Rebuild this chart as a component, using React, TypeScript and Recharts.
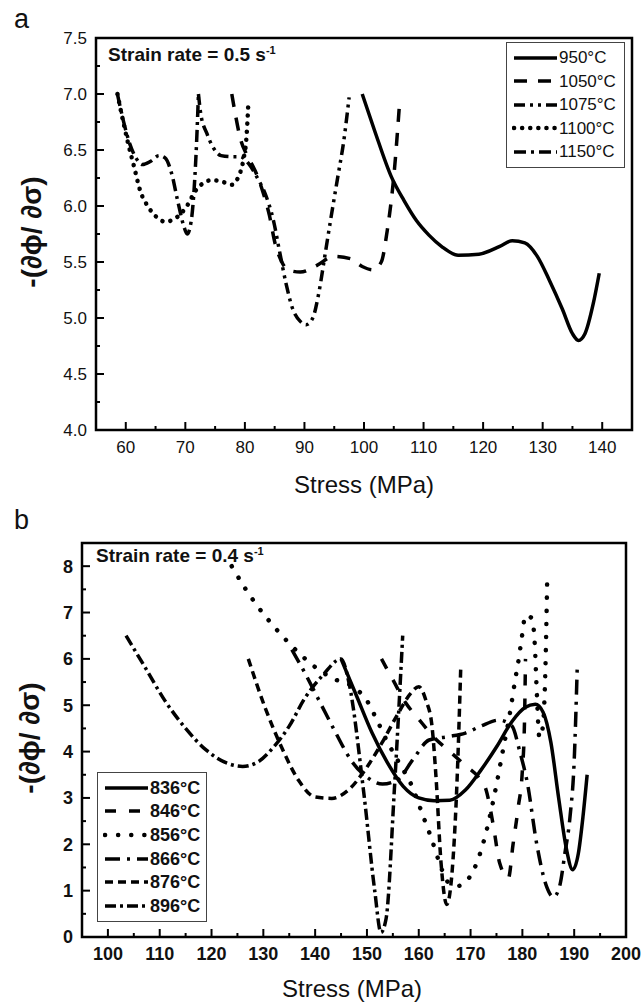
import React from "react";
import { LineChart, Line, XAxis, YAxis, ReferenceArea, Legend } from "recharts";

const FONT = '"Liberation Sans", Arial, Helvetica, sans-serif';

// ---- panel a : strain rate 0.5 s-1  (stress MPa, -(dphi/dsigma))
const t950 = [[99.7, 7.0], [101.8, 6.67], [104.6, 6.26], [106.7, 6.05], [108.8, 5.87], [110.9, 5.74], [113, 5.64], [115.8, 5.56], [119.3, 5.57], [122.8, 5.64], [124.9, 5.69], [127, 5.67], [129.1, 5.55], [131.1, 5.34], [133.3, 5.08], [135, 4.86], [136, 4.8], [137.1, 4.86], [138.5, 5.13], [139.5, 5.4]];
const t1050 = [[77.8, 7.0], [78.5, 6.79], [79.2, 6.61], [80.2, 6.47], [80.9, 6.4], [82, 6.28], [83, 6.13], [84.1, 5.92], [85.1, 5.66], [86.2, 5.5], [87.2, 5.43], [89.3, 5.41], [92.1, 5.47], [94.9, 5.55], [97.7, 5.53], [99.7, 5.46], [101.5, 5.43], [102.9, 5.5], [103.9, 5.78], [105, 6.26], [106, 6.94]];
const t1075 = [[72.2, 7.0], [72.6, 6.82], [73.6, 6.65], [74.6, 6.53], [76, 6.45], [77.8, 6.44], [79.2, 6.44], [80.6, 6.38], [82, 6.26], [83.4, 6.11], [84.8, 5.87], [85.8, 5.6], [86.9, 5.31], [87.9, 5.1], [89.3, 4.97], [90.3, 4.94], [91.4, 5.0], [92.4, 5.22], [93.5, 5.58], [94.5, 5.91], [95.6, 6.26], [96.6, 6.58], [97.5, 6.97]];
const t1100 = [[58.6, 7.0], [59.3, 6.82], [60.3, 6.58], [61.4, 6.35], [62.4, 6.14], [63.8, 5.99], [65.2, 5.9], [66.6, 5.86], [68, 5.88], [69.4, 5.94], [70.5, 6.02], [71.5, 6.12], [72.9, 6.2], [74.3, 6.23], [76, 6.22], [77.8, 6.19], [78.9, 6.26], [79.7, 6.4], [80.3, 6.64], [80.6, 6.94]];
const t1150 = [[58.6, 7.0], [59.6, 6.76], [60.7, 6.55], [61.7, 6.43], [62.8, 6.37], [64.2, 6.4], [65.6, 6.45], [66.6, 6.43], [67.7, 6.29], [68.7, 6.05], [69.8, 5.81], [70.3, 5.75], [71, 5.87], [71.5, 6.17], [71.9, 6.58], [72.2, 7.0]];

const topNames = ["950°C", "1050°C", "1075°C", "1100°C", "1150°C"];
const topData = [t950, t1050, t1075, t1100, t1150];
const topXTicks = [55, 60, 65, 70, 75, 80, 85, 90, 95, 100, 105, 110, 115, 120, 125, 130, 135, 140, 145];
const topXLabels = [60, 70, 80, 90, 100, 110, 120, 130, 140];
const topYTicks = [4, 4.25, 4.5, 4.75, 5, 5.25, 5.5, 5.75, 6, 6.25, 6.5, 6.75, 7, 7.25, 7.5];
const topYLabels = [4, 4.5, 5, 5.5, 6, 6.5, 7, 7.5];

// ---- panel b : strain rate 0.4 s-1
const b836 = [[145, 6.0], [148, 5.2], [151, 4.4], [154, 3.75], [157, 3.25], [160, 3.0], [163, 2.94], [166, 2.95], [169, 3.17], [172, 3.6], [175, 4.1], [178, 4.65], [180.5, 4.95], [182.5, 5.02], [184, 4.85], [185.5, 4.2], [187, 3.0], [188.5, 1.9], [189.7, 1.45], [190.8, 1.8], [191.7, 2.6], [192.5, 3.5]];
const b846 = [[152.8, 6.0], [155, 5.55], [157.5, 5.05], [160, 4.7], [163, 4.3], [166, 4.0], [169, 3.7], [171.5, 3.45], [173, 3.17], [174.4, 2.4], [175.6, 1.6], [177.3, 1.27], [178.2, 2.0], [179.2, 2.8], [180, 3.6], [180.4, 4.6], [180.6, 6.0]];
const b856 = [[123.9, 8.0], [126.5, 7.52], [129.2, 7.09], [132.5, 6.64], [136.1, 6.21], [139.8, 5.84], [143, 5.6], [147.8, 5.36], [150, 5.1], [151.5, 4.78], [154, 4.2], [156.5, 3.7], [158.5, 3.3], [160.9, 2.59], [162.4, 2.14], [164, 1.6], [165.5, 1.2], [167.5, 1.1], [169.8, 1.29], [171.4, 1.66], [172.7, 2.13], [174.6, 3.06], [176.2, 4.0], [177.6, 4.83], [178.6, 5.54], [179.3, 6.0], [179.9, 6.47], [180.6, 6.94], [181.8, 6.88], [182.4, 6.3], [182.7, 5.5], [183.3, 4.3], [183.9, 4.5], [184.4, 5.6], [184.8, 7.78]];
const b866 = [[135.5, 6.2], [138, 5.7], [141, 5.05], [144, 4.4], [147, 3.8], [150, 3.45], [153, 3.3], [156, 3.4], [159, 3.85], [162, 4.25], [165.5, 4.32], [169, 4.4], [172, 4.55], [175.5, 4.68], [178, 4.55], [179.5, 4.0], [181, 3.3], [182.7, 2.05], [184.7, 1.08], [186, 0.86], [187.2, 1.1], [188.2, 1.8], [189.2, 2.6], [190, 3.8], [190.6, 5.86]];
const b876 = [[127.1, 6.0], [130.3, 4.96], [133.5, 4.1], [136.8, 3.38], [140, 3.02], [143.2, 2.99], [146.4, 3.17], [149.6, 3.6], [152.8, 4.17], [156, 4.82], [158.4, 5.25], [160, 5.4], [161.4, 5.1], [162.5, 4.6], [163.3, 3.5], [164.3, 1.6], [165.4, 0.7], [166.5, 1.5], [167.4, 3.4], [168.1, 5.8]];
const b896 = [[103.5, 6.5], [107, 5.85], [111, 5.1], [115, 4.5], [119, 4.03], [123, 3.75], [126, 3.68], [129, 3.78], [132, 4.1], [135, 4.55], [138, 5.15], [141.5, 5.65], [145, 6.0], [146.5, 5.5], [149.4, 3.1], [151.5, 1.0], [152.7, 0.1], [153.7, 0.4], [155.3, 3.2], [156.9, 6.5]];

const botNames = ["836°C", "846°C", "856°C", "866°C", "876°C", "896°C"];
const botData = [b836, b846, b856, b866, b876, b896];
const botXTicks = [95, 100, 105, 110, 115, 120, 125, 130, 135, 140, 145, 150, 155, 160, 165, 170, 175, 180, 185, 190, 195, 200];
const botXLabels = [100, 110, 120, 130, 140, 150, 160, 170, 180, 190, 200];
const botYTicks = [0, 0.5, 1, 1.5, 2, 2.5, 3, 3.5, 4, 4.5, 5, 5.5, 6, 6.5, 7, 7.5, 8];
const botYLabels = [0, 1, 2, 3, 4, 5, 6, 7, 8];

// line styles (same order as the names above)
const topDash = [undefined, "13 11", "11 5 3 5 3 5", "0.1 8", "12 5 3 5"];
const botDash = [undefined, "11 13", "0.1 13", "15 7 3 7", "8 5", "11 4 3 4"];

const rows = (pts: number[][]) => pts.map(([x, y]) => ({ x, y }));
const isDot = (d?: string) => !!d && d.startsWith("0.1");

const xTick = (labels: number[], fontSize: number, weight: string) => (p: any) => {
  const { x, y, payload } = p;
  const major = labels.includes(payload.value);
  return (
    <g>
      <line x1={x} y1={y} x2={x} y2={y - (major ? 8 : 4)} stroke="#000" strokeWidth={2} />
      {major && (
        <text x={x} y={y + 23} textAnchor="middle" fontSize={fontSize} fontWeight={weight} fontFamily={FONT} fill="#111">
          {String(payload.value)}
        </text>
      )}
    </g>
  );
};

const yTick = (labels: number[], fontSize: number, weight: string, fmt: (v: number) => string) => (p: any) => {
  const { x, y, payload } = p;
  const major = labels.includes(payload.value);
  return (
    <g>
      <line x1={x} y1={y} x2={x + (major ? 8 : 4)} y2={y} stroke="#000" strokeWidth={2} />
      {major && (
        <text x={x - 9} y={y + fontSize * 0.36} textAnchor="end" fontSize={fontSize} fontWeight={weight} fontFamily={FONT} fill="#111">
          {fmt(payload.value)}
        </text>
      )}
    </g>
  );
};

const LegendBox = ({ names, dashes, fontSize, weight, width, rowH }: any) => (
  <div style={{ border: "1.5px solid #444", background: "#fff", width, padding: "3px 0 3px 5px", boxSizing: "border-box", fontFamily: FONT }}>
    {names.map((n: string, i: number) => (
      <div key={n} style={{ display: "flex", alignItems: "center", height: rowH }}>
        <svg width={46} height={8} style={{ flex: "none" }}>
          <line x1={2} y1={4} x2={45} y2={4} stroke="#000" strokeWidth={isDot(dashes[i]) ? 4.5 : 3.5} strokeDasharray={dashes[i]} strokeLinecap={isDot(dashes[i]) ? "round" : "butt"} />
        </svg>
        <span style={{ fontSize, fontWeight: weight, marginLeft: 1, lineHeight: 1, color: "#111" }}>{n}</span>
      </div>
    ))}
  </div>
);

const abs = (left: number, top: number, extra: any = {}) => ({ position: "absolute" as const, left, top, fontFamily: FONT, color: "#111", lineHeight: 1, whiteSpace: "nowrap" as const, ...extra });

const Panel = ({ top, height, margin, xDomain, yDomain, xTicks, xLabels, yTicks, yLabels, names, data, dashes, tickFont, tickWeight, yFmt, legend }: any) => (
  <div style={{ position: "absolute", left: 0, top, width: 642, height }}>
    <LineChart width={642} height={height} margin={margin}>
      <XAxis type="number" dataKey="x" domain={xDomain} ticks={xTicks} allowDataOverflow height={30} tickSize={0} tickMargin={0} interval={0} axisLine={{ stroke: "#000", strokeWidth: 2 }} tickLine={false} tick={xTick(xLabels, tickFont, tickWeight)} />
      <YAxis type="number" domain={yDomain} ticks={yTicks} allowDataOverflow width={40} tickSize={0} tickMargin={0} interval={0} axisLine={{ stroke: "#000", strokeWidth: 2 }} tickLine={false} tick={yTick(yLabels, tickFont, tickWeight, yFmt)} />
      <ReferenceArea x1={xDomain[0]} x2={xDomain[1]} y1={yDomain[0]} y2={yDomain[1]} fill="#fff" fillOpacity={0} stroke="#000" strokeWidth={2.5} ifOverflow="visible" />
      {data.map((pts: number[][], i: number) => (
        <Line key={names[i]} name={names[i]} data={rows(pts)} dataKey="y" type="monotone" stroke="#000" strokeWidth={isDot(dashes[i]) ? 4.5 : 3.5} strokeDasharray={dashes[i]} strokeLinecap={isDot(dashes[i]) ? "round" : "butt"} dot={false} activeDot={false} isAnimationActive={false} />
      ))}
      <Legend layout="vertical" align="center" verticalAlign="middle" wrapperStyle={legend.style} content={() => legend.node} />
    </LineChart>
  </div>
);

export default function App() {
  return (
    <div style={{ position: "absolute", left: 0, top: 0, width: 642, height: 1003, background: "#fff", overflow: "hidden" }}>
      <Panel
        top={0}
        height={500}
        margin={{ top: 38, right: 10, left: 56, bottom: 40 }}
        xDomain={[55, 145]}
        yDomain={[4, 7.5]}
        xTicks={topXTicks}
        xLabels={topXLabels}
        yTicks={topYTicks}
        yLabels={topYLabels}
        names={topNames}
        data={topData}
        dashes={topDash}
        tickFont={17}
        tickWeight="normal"
        yFmt={(v: number) => v.toFixed(1)}
        legend={{
          style: { position: "absolute", left: 506, top: 42, width: 119 },
          node: <LegendBox names={topNames} dashes={topDash} fontSize={17} weight="normal" width={119} rowH={23.5} />,
        }}
      />
      <div style={abs(14, 6, { fontSize: 27 })}>a</div>
      <div style={abs(108, 45, { fontSize: 19, fontWeight: "bold" })}>
        Strain rate = 0.5 s<sup style={{ fontSize: 11 }}>-1</sup>
      </div>
      <div style={abs(32, 232, { fontSize: 28, fontWeight: "bold", transform: "translate(-50%,-50%) rotate(-90deg)" })}>-(∂ϕ/ ∂σ)</div>
      <div style={abs(364, 485, { fontSize: 24, transform: "translate(-50%,-50%)" })}>Stress (MPa)</div>

      <Panel
        top={500}
        height={503}
        margin={{ top: 43, right: 16, left: 42, bottom: 36 }}
        xDomain={[95, 200]}
        yDomain={[0, 8.5]}
        xTicks={botXTicks}
        xLabels={botXLabels}
        yTicks={botYTicks}
        yLabels={botYLabels}
        names={botNames}
        data={botData}
        dashes={botDash}
        tickFont={18}
        tickWeight="bold"
        yFmt={(v: number) => String(v)}
        legend={{
          style: { position: "absolute", left: 97, top: 272, width: 110 },
          node: <LegendBox names={botNames} dashes={botDash} fontSize={18} weight="bold" width={110} rowH={23.6} />,
        }}
      />
      <div style={abs(14, 507, { fontSize: 27 })}>b</div>
      <div style={abs(96, 546, { fontSize: 19, fontWeight: "bold" })}>
        Strain rate = 0.4 s<sup style={{ fontSize: 11 }}>-1</sup>
      </div>
      <div style={abs(30, 738, { fontSize: 28, fontWeight: "bold", transform: "translate(-50%,-50%) rotate(-90deg)" })}>-(∂ϕ/ ∂σ)</div>
      <div style={abs(352, 989, { fontSize: 24, transform: "translate(-50%,-50%)" })}>Stress (MPa)</div>
    </div>
  );
}
